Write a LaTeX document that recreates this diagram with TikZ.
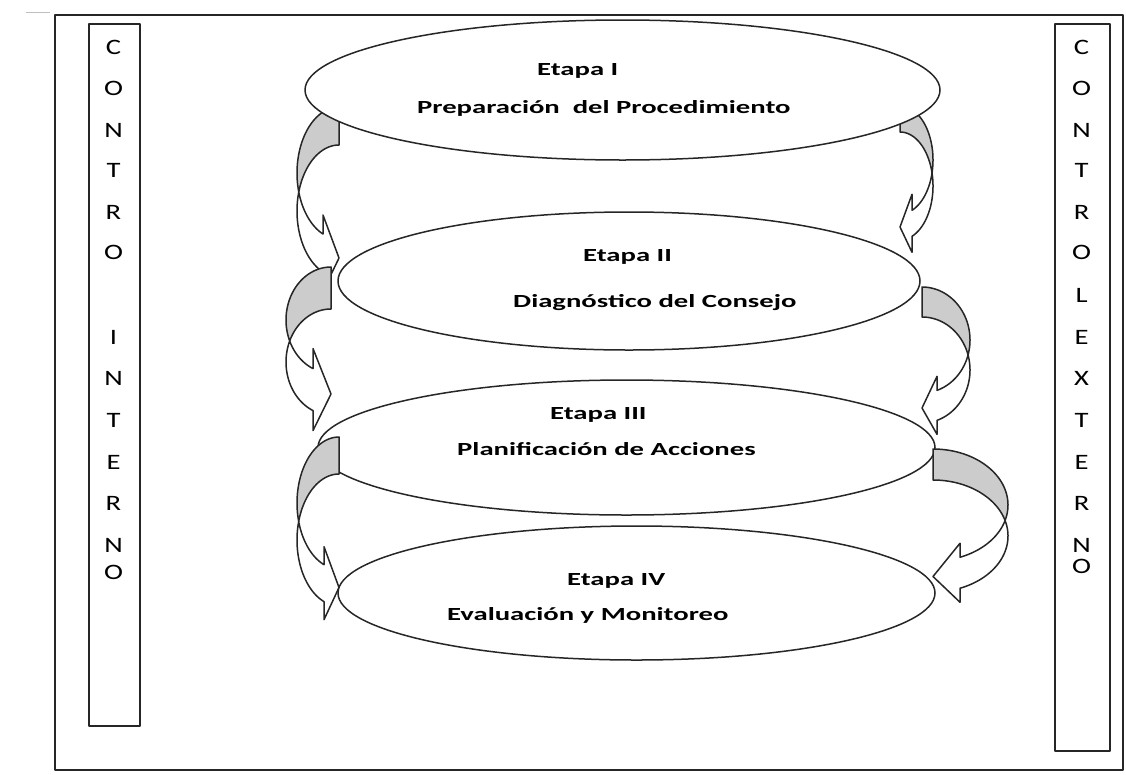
\documentclass[tikz,border=0pt]{standalone}
\usepackage{fontspec}
\usepackage{graphicx}
\setmainfont{Carlito}
\usetikzlibrary{shapes.geometric}
\newcommand\sx[1]{\scalebox{1.55}[1]{#1}}
\newcommand\sv[1]{\scalebox{1.3}[1]{#1}}
% curved arrow: #1 flat-end x, #2 top y, #3 width, #4 band thickness, #5 half radius, #6 head length, #7 barb overhang, #8 direction (-1 bulge left, 1 bulge right)
\newcommand\carrow[8]{%
 \begin{scope}[shift={(#1,#2)}, xscale=#8]
  \pgfmathsetmacro\arW{#3}\pgfmathsetmacro\arT{#4}\pgfmathsetmacro\arH{#5}%
  \pgfmathsetmacro\arA{#6}\pgfmathsetmacro\arD{#7}%
  \pgfmathsetmacro\arCL{acos(\arT/(2*\arH))}%
  \pgfmathsetmacro\arCU{acos(-\arT/(2*\arH))}%
  \pgfmathsetmacro\arU{180-asin(\arA/\arW)}%
  \pgfmathsetmacro\arVf{\arH+\arH*sqrt(1-(\arA/\arW)^2)}%
  \pgfmathsetmacro\arVs{2*\arH+\arT/2}%
  \filldraw[backpart] (0,\arT) -- plot[domain=0:\arCL,samples=40] ({\arW*sin(\x)},{\arH+\arT-\arH*cos(\x)}) -- plot[domain=\arCU:0,samples=40] ({\arW*sin(\x)},{\arH-\arH*cos(\x)}) -- cycle;
  \filldraw[frontpart] plot[domain=\arCU:\arU,samples=40] ({\arW*sin(\x)},{\arH-\arH*cos(\x)}) -- (\arA,{\arVf-\arD}) -- (0,\arVs) -- (\arA,{\arVf+\arT+\arD}) -- plot[domain=\arU:\arCL,samples=40] ({\arW*sin(\x)},{\arH+\arT-\arH*cos(\x)}) -- cycle;
 \end{scope}}
\begin{document}
\begin{tikzpicture}[x=1pt,y=-1pt,line join=round,
  ln/.style={draw=black!85, line width=1.5pt},
  box/.style={ln, inner sep=0pt, anchor=north west},
  stage/.style={ln, fill=white, ellipse, inner sep=0pt},
  backpart/.style={ln, fill=black!20},
  frontpart/.style={ln, fill=white},
  lbl/.style={anchor=base west, inner sep=0pt, font=\bfseries\fontsize{18.5}{22}\selectfont, text=black},
  vl/.style={anchor=center, inner sep=0pt, font=\fontsize{22}{26}\selectfont, text=black}]
\useasboundingbox (0,0) rectangle (1126,774);
\draw[gray!50, line width=1pt] (26,12) -- (50,12);
\node[box, minimum width=1068pt, minimum height=755pt] (frame) at (54,14) {};
\node[box, minimum width=51pt, minimum height=702pt] (lbox) at (88,23) {};
\node[box, minimum width=55pt, minimum height=727pt] (rbox) at (1054,23) {};
\foreach \ch/\yy [count=\i] in {C/47,O/88,N/130,T/170,R/212,O/252,I/337,N/378,T/420,E/462,R/503,N/545,O/572}
  \node[vl] (li\i) at (113.5,\yy) {\sv{\ch}};
\foreach \ch/\yy [count=\i] in {C/47,O/88,N/130,T/170,R/212,O/252,L/295,E/337,X/378,T/420,E/462,R/503,N/545,O/566}
  \node[vl] (ri\i) at (1081.5,\yy) {\sv{\ch}};
% arrows behind stage 1
\carrow{339}{107}{42}{38}{66}{16}{19}{-1}
\carrow{900}{106}{33}{26}{54}{12}{16}{1}
\node[stage, minimum width=635pt, minimum height=140pt] (e1) at (622.5,90) {};
\node[stage, minimum width=582pt, minimum height=138pt] (e2) at (629,281) {};
\carrow{331}{267}{45}{42}{53}{18}{20}{-1}
\carrow{922}{287}{48}{30}{53}{15}{14}{1}
\node[stage, minimum width=617pt, minimum height=135pt] (e3) at (626.5,447.5) {};
\carrow{339}{437}{42}{37}{66}{15}{18}{-1}
\carrow{933}{449}{75}{31}{56}{27}{14}{1}
\node[stage, minimum width=597pt, minimum height=134pt] (e4) at (636.5,593) {};
\node[lbl] (t1a) at (537,75) {\sx{Etapa I}};
\node[lbl] (t1b) at (417,113) {\sx{Preparación~ del Procedimiento}};
\node[lbl] (t2a) at (583,261) {\sx{Etapa II}};
\node[lbl] (t2b) at (513,307) {\sx{Diagnóstico del Consejo}};
\node[lbl] (t3a) at (550,419) {\sx{Etapa III}};
\node[lbl] (t3b) at (457,455) {\sx{Planificación de Acciones}};
\node[lbl] (t4a) at (567,585) {\sx{Etapa IV}};
\node[lbl] (t4b) at (447,620) {\sx{Evaluación y Monitoreo}};
\end{tikzpicture}
\end{document}
